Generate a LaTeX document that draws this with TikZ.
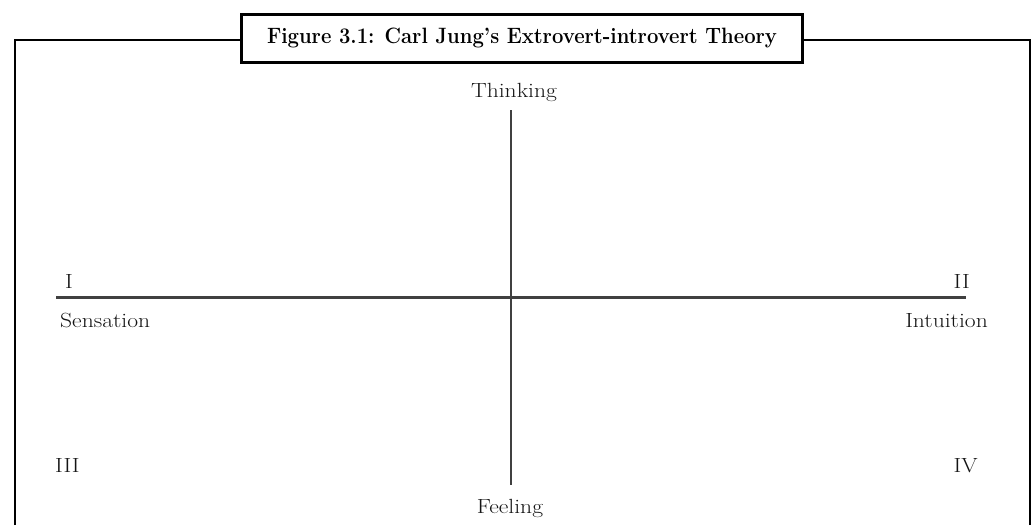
\documentclass[tikz,border=0pt]{standalone}
\usepackage{fontspec}
\newfontfamily\lblfont[FakeStretch=1.15]{Latin Modern Roman}
\begin{document}
\begin{tikzpicture}[x=1pt,y=-1pt,
  frameline/.style={line width=2.8pt,black},
  axisline/.style={line width=2.6pt,black!75},
  lbl/.style={inner sep=0pt,text=black!92,font=\lblfont\fontsize{20.5}{24}\selectfont},
  titlebox/.style={draw=black,line width=2.8pt,fill=white,minimum width=561pt,minimum height=48pt,inner sep=0pt,outer sep=0pt}]
\useasboundingbox (0,0) rectangle (1032,525);
% frame
\coordinate (fl) at (15,525);
\coordinate (fr) at (1030,525);
\coordinate (ftop) at (0,40);
\node[titlebox] (title) at (522,38.5) {};
\node[inner sep=0pt,anchor=base] (titletext) at (522,43.5) {\resizebox{510pt}{15.5pt}{\fontsize{19}{23}\selectfont\bfseries Figure 3.1: Carl Jung's Extrovert-introvert Theory}};
\draw[frameline] (fl) |- (title.west |- ftop);
\draw[frameline] (fr) |- (title.east |- ftop);
% axes
\coordinate (vt) at (511,110);
\coordinate (vb) at (511,485);
\coordinate (hl) at (56,297.5);
\coordinate (hr) at (966,297.5);
\draw[axisline] (vt) -- (vb);
\draw[axisline] (hl) -- (hr);
% labels
\node[lbl,anchor=base] (thinking) at (514,97) {Thinking};
\node[lbl,anchor=base] (feeling) at (510,513) {Feeling};
\node[lbl,anchor=base west] (one) at (65,288) {I};
\node[lbl,anchor=base east] (two) at (970,288) {II};
\node[lbl,anchor=base west] (sensation) at (60,327) {Sensation};
\node[lbl,anchor=base east] (intuition) at (988,327) {Intuition};
\node[lbl,anchor=base west] (three) at (55,472) {III};
\node[lbl,anchor=base east] (four) at (978,472) {IV};
\end{tikzpicture}
\end{document}
